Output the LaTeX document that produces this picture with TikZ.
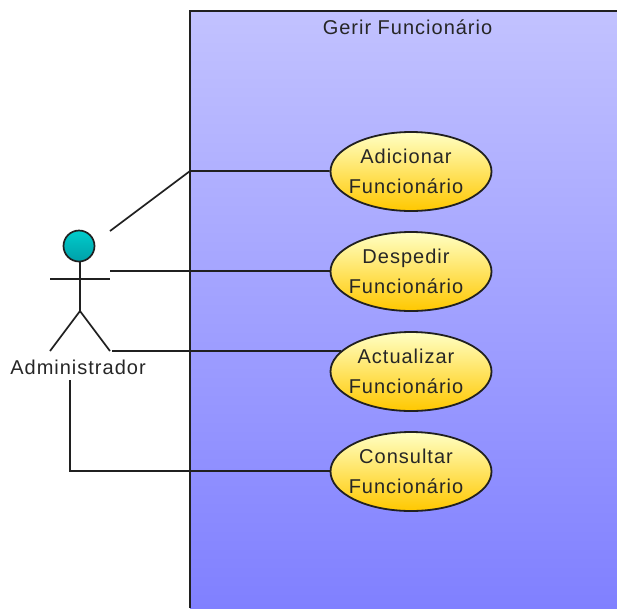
\documentclass[tikz,border=0pt]{standalone}
\usepackage{fontspec}
\setmainfont{Liberation Sans}[LetterSpace=5]
\usetikzlibrary{shapes.geometric}
\definecolor{sysTop}{HTML}{C2C2FF}
\definecolor{sysBot}{HTML}{8080FF}
\definecolor{ucTop}{HTML}{FFFFC4}
\definecolor{ucBot}{HTML}{FFC800}
\definecolor{headTop}{HTML}{00CCCC}
\definecolor{headBot}{HTML}{00A0A8}
\definecolor{ink}{HTML}{202020}
\newcommand\lft[1]{\hspace*{-10pt}#1}
\tikzset{
  x=1pt,y=-1pt,
  usecase/.style={ellipse,draw=ink,line width=1.8pt,top color=ucTop,bottom color=ucBot,
    minimum width=161pt,minimum height=79pt,inner sep=0pt,align=center,
    font=\fontsize{20}{30}\selectfont,text=black!85},
  label/.style={inner sep=0pt,font=\fontsize{20}{24}\selectfont,text=black!85},
  wire/.style={draw=ink,line width=1.7pt},
  stick/.style={draw=ink,line width=1.7pt},
}
\begin{document}
\begin{tikzpicture}
\useasboundingbox (0,0) rectangle (617,608);
\fill[white] (0,0) rectangle (617,608);
% system boundary
\shade[top color=sysTop,bottom color=sysBot] (190,11) rectangle (617,608);
\draw[stick] (190,608) -- (190,11) -- (617,11);
\node[label] (title) at (407.5,27) {Gerir Funcionário};
% use cases
\node[usecase] (uc1) at (411,171.5) {\lft{Adicionar}\\\lft{Funcionário}};
\node[usecase] (uc2) at (411,271.5) {\lft{Despedir}\\\lft{Funcionário}};
\node[usecase] (uc3) at (411,371.5) {\lft{Actualizar}\\\lft{Funcionário}};
\node[usecase] (uc4) at (411,471.5) {\lft{Consultar}\\\lft{Funcionário}};
% actor
\node[circle,draw=ink,line width=1.7pt,top color=headTop,bottom color=headBot,minimum size=31pt,inner sep=0pt] (head) at (79,246) {};
\coordinate (hip) at (80,311);
\coordinate (armL) at (50,279);
\coordinate (armR) at (110,279);
\coordinate (footL) at (50,351);
\coordinate (footR) at (110,351);
\draw[stick] (head.south -| hip) -- (hip);
\draw[stick] (armL) -- (armR);
\draw[stick] (footL) -- (hip) -- (footR);
\node[label] (actor) at (78,367) {Administrador};
% connectors
\coordinate (a1) at (110,231);
\coordinate (b1) at (190,171);
\coordinate (a2) at (110,271);
\coordinate (a3) at (112,351);
\coordinate (a4) at (70,380);
\coordinate (b4) at (70,471);
\draw[wire] (a1) -- (b1) -- (uc1.west |- b1);
\draw[wire] (a2) -- (uc2.west |- a2);
\draw[wire] (a3) -- (uc3.164 |- a3);
\draw[wire] (a4) -- (b4) -- (uc4.west |- b4);
\end{tikzpicture}
\end{document}
